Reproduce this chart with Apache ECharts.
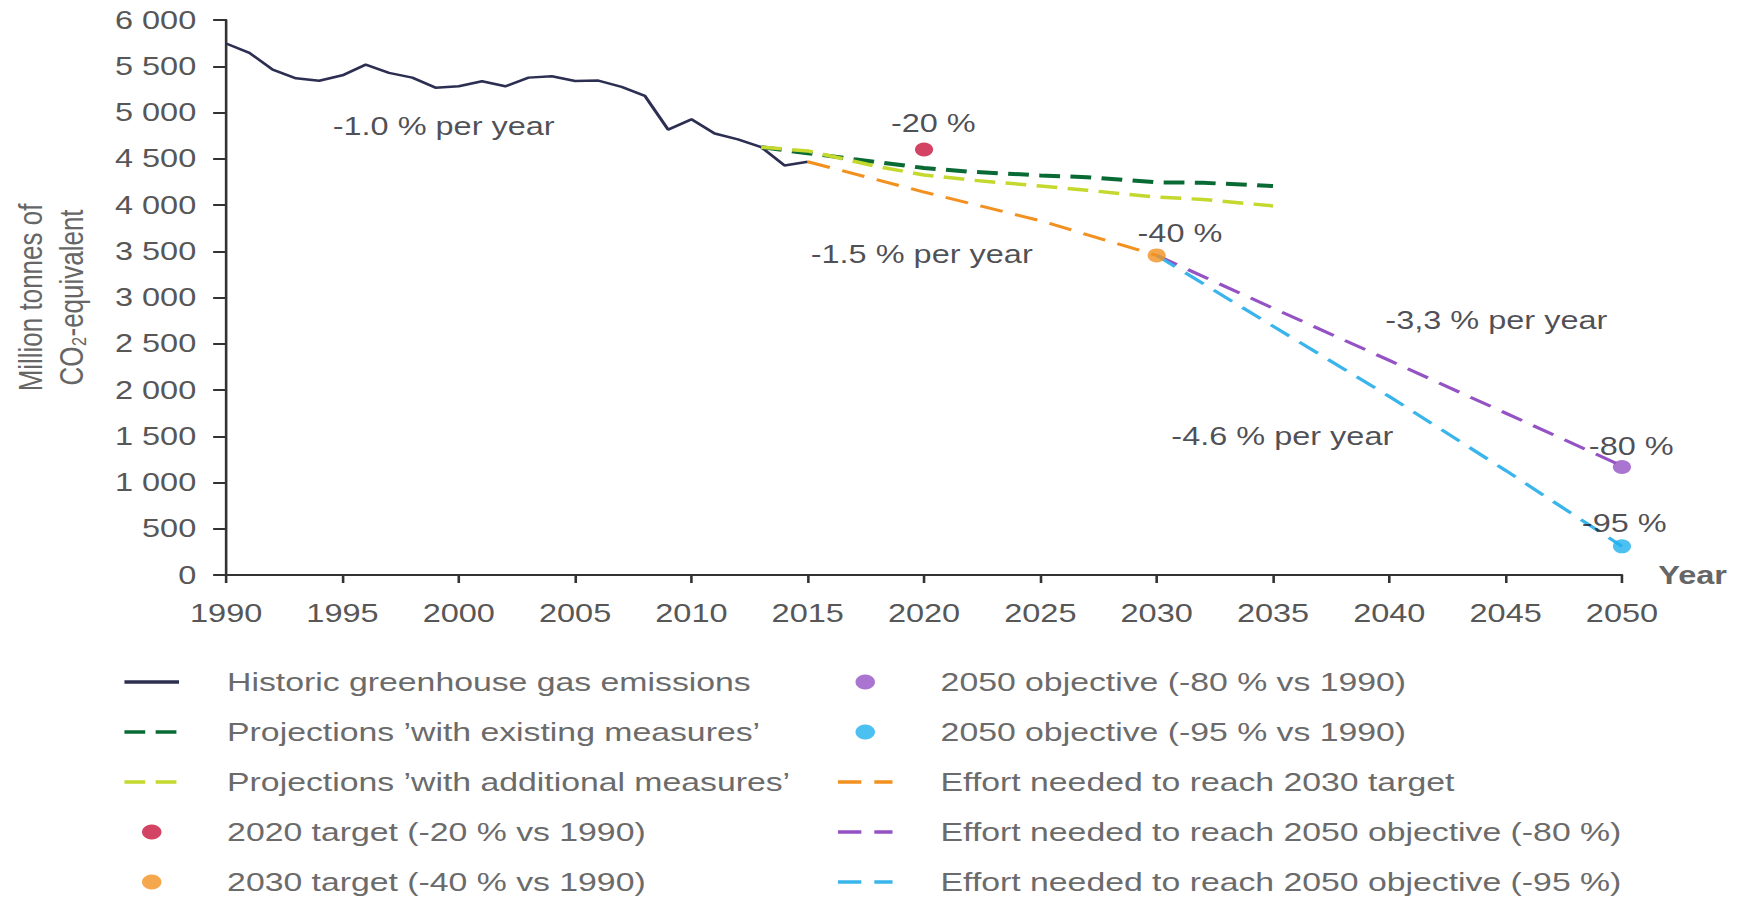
<!DOCTYPE html>
<html>
<head>
<meta charset="utf-8">
<script src="https://cdn.jsdelivr.net/npm/echarts@6.0.0/dist/echarts.min.js"></script>
<style>
html, body { margin: 0; padding: 0; background: #ffffff; overflow: hidden; width: 1748px; height: 897px; }
#chart { width: 1345px; height: 897px; transform: scaleX(1.29963); transform-origin: 0 0; }
</style>
</head>
<body>
<div id="chart"></div>
<script>
// ---- data ----
const historicYears  = [1990,1991,1992,1993,1994,1995,1996,1997,1998,1999,2000,2001,2002,2003,2004,2005,2006,2007,2008,2009,2010,2011,2012,2013,2014,2015];
const historicValues = [5746,5645,5464,5370,5344,5402,5518,5428,5377,5268,5283,5337,5283,5377,5391,5341,5345,5277,5180,4815,4926,4773,4710,4625,4428,4468];

const wemYears  = [2013,2015,2017,2020,2022,2025,2027,2030,2032,2035];
const wemValues = [4625,4560,4495,4400,4360,4320,4300,4245,4240,4205];

const wamYears  = [2013,2015,2018,2020,2022,2025,2027,2030,2032,2035];
const wamValues = [4625,4585,4415,4325,4270,4205,4160,4085,4060,3990];

const effort2030Years  = [2015,2020,2025,2030];
const effort2030Values = [4468,4140,3830,3455];

const effort80Years  = [2030,2035,2040,2045,2050];
const effort80Values = [3455,2885,2320,1750,1180];

const effort95Years  = [2030,2035,2040,2045,2050];
const effort95Values = [3455,2690,1930,1130,310];

const target2020 = [2020, 4600];
const target2030 = [2030, 3455];
const objective80 = [2050, 1168];
const objective95 = [2050, 310];

// annotation texts placed in data coordinates
const annotationTexts  = ['-1.0 % per year','-1.5 % per year','-3,3 % per year','-4.6 % per year','-20 %','-40 %','-80 %','-95 %'];
const annotationYears  = [1999.35, 2019.9, 2044.6, 2035.4, 2020.4, 2031.0, 2050.4, 2050.1];
const annotationValues = [4855, 3470, 2757, 1503, 4886, 3690, 1395, 562];

const yTicks = { min: 0, max: 6000, interval: 500 };
const xTicks = { min: 1990, max: 2050, interval: 5 };

const names = {
  historic: 'Historic greenhouse gas emissions',
  wem: 'Projections \u2019with existing measures\u2019',
  wam: 'Projections \u2019with additional measures\u2019',
  t2020: '2020 target (-20 % vs 1990)',
  t2030: '2030 target (-40 % vs 1990)',
  o80: '2050 objective (-80 % vs 1990)',
  o95: '2050 objective (-95 % vs 1990)',
  e2030: 'Effort needed to reach 2030 target',
  e80: 'Effort needed to reach 2050 objective (-80 %)',
  e95: 'Effort needed to reach 2050 objective (-95 %)'
};

// ---- helpers ----
const pairs = (xs, ys) => xs.map((x, i) => [x, ys[i]]);
const FONT = "'Liberation Sans', Arial, sans-serif";
const C = {
  historic: '#2d2f52', wem: '#0a6a34', wam: '#c5d82e', red: '#c8143c',
  orange: '#f39120', purple: '#9452c4', cyan: '#3ab5eb', cyanDot: '#1fb0ee'
};
const DASH = [18, 10];
const lineNames = [names.historic, names.wem, names.wam, names.e2030, names.e80, names.e95];

function lineSeries(name, data, color, width, dash) {
  return {
    name, type: 'line', data, symbol: 'none', showSymbol: false, z: 3,
    lineStyle: { color, width, type: dash || 'solid' },
    itemStyle: { color }
  };
}
function dotSeries(name, point, color) {
  return {
    name, type: 'scatter', data: [point], symbol: 'circle', symbolSize: 14, z: 5,
    itemStyle: { color }
  };
}
// legend entries: line series show only their (thicker) line, no marker
const legendItem = n => lineNames.indexOf(n) >= 0
  ? { name: n, itemStyle: { opacity: 0 }, lineStyle: { width: 3.5 } }
  : { name: n };

const legendText = { fontSize: 26, color: '#6b6b6b', fontFamily: FONT, padding: [0, 0, 0, 32] };
const legendCommon = {
  orient: 'vertical', itemWidth: 42, itemHeight: 15, itemGap: 24, top: 669, padding: 0, height: 240,
  selectedMode: false, textStyle: legendText
};

const option = {
  animation: false,
  backgroundColor: '#ffffff',
  textStyle: { fontFamily: FONT },
  grid: { left: 171, right: 97, top: 20, bottom: 322, containLabel: false },
  legend: [
    Object.assign({}, legendCommon, { left: 94, data: [names.historic, names.wem, names.wam, names.t2020, names.t2030].map(legendItem) }),
    Object.assign({}, legendCommon, { left: 643, data: [names.o80, names.o95, names.e2030, names.e80, names.e95].map(legendItem) })
  ],
  xAxis: {
    type: 'value', min: xTicks.min, max: xTicks.max, interval: xTicks.interval,
    name: 'Year', nameLocation: 'end', nameGap: 28,
    nameTextStyle: { fontSize: 25, fontWeight: 'bold', color: '#666666', fontFamily: FONT, verticalAlign: 'middle', padding: [8, 0, 0, 0] },
    axisLine: { show: true, lineStyle: { color: '#333333', width: 2 } },
    axisTick: { show: true, length: 8, lineStyle: { color: '#333333', width: 2 } },
    axisLabel: { fontSize: 25, color: '#575757', fontFamily: FONT, margin: 26, formatter: v => String(v) },
    splitLine: { show: false }
  },
  yAxis: {
    type: 'value', min: yTicks.min, max: yTicks.max, interval: yTicks.interval,
    name: 'Million tonnes of\nCO\u2082-equivalent', nameLocation: 'middle', nameRotate: 90, nameGap: 104,
    nameTextStyle: { fontSize: 26, color: '#666666', fontFamily: FONT, lineHeight: 31 },
    axisLine: { show: true, lineStyle: { color: '#333333', width: 2 } },
    axisTick: { show: true, length: 10, lineStyle: { color: '#333333', width: 2 } },
    axisLabel: {
      fontSize: 25, color: '#575757', fontFamily: FONT, margin: 23,
      formatter: v => v >= 1000 ? Math.floor(v / 1000) + ' ' + String(v % 1000).padStart(3, '0') : String(v)
    },
    splitLine: { show: false }
  },
  series: [
    lineSeries(names.historic, pairs(historicYears, historicValues), C.historic, 2.5),
    lineSeries(names.wem, pairs(wemYears, wemValues), C.wem, 4, [16, 8]),
    lineSeries(names.wam, pairs(wamYears, wamValues), C.wam, 3.5, [16, 8]),
    dotSeries(names.t2020, target2020, C.red),
    dotSeries(names.t2030, target2030, C.orange),
    dotSeries(names.o80, objective80, C.purple),
    dotSeries(names.o95, objective95, C.cyanDot),
    lineSeries(names.e2030, pairs(effort2030Years, effort2030Values), C.orange, 3, DASH),
    lineSeries(names.e80, pairs(effort80Years, effort80Values), C.purple, 3, DASH),
    lineSeries(names.e95, pairs(effort95Years, effort95Values), C.cyan, 3, DASH),
    {
      name: 'annotations', type: 'scatter', symbolSize: 0, clip: false, z: 6, silent: true,
      data: annotationTexts.map((t, i) => ({ name: t, value: [annotationYears[i], annotationValues[i]] })),
      label: {
        show: true, position: 'inside', formatter: p => p.name,
        fontSize: 25, color: '#1f1f2a', fontFamily: FONT
      }
    }
  ]
};

const chart = echarts.init(document.getElementById('chart'), null, { renderer: 'svg' });
chart.setOption(option);
</script>
</body>
</html>
